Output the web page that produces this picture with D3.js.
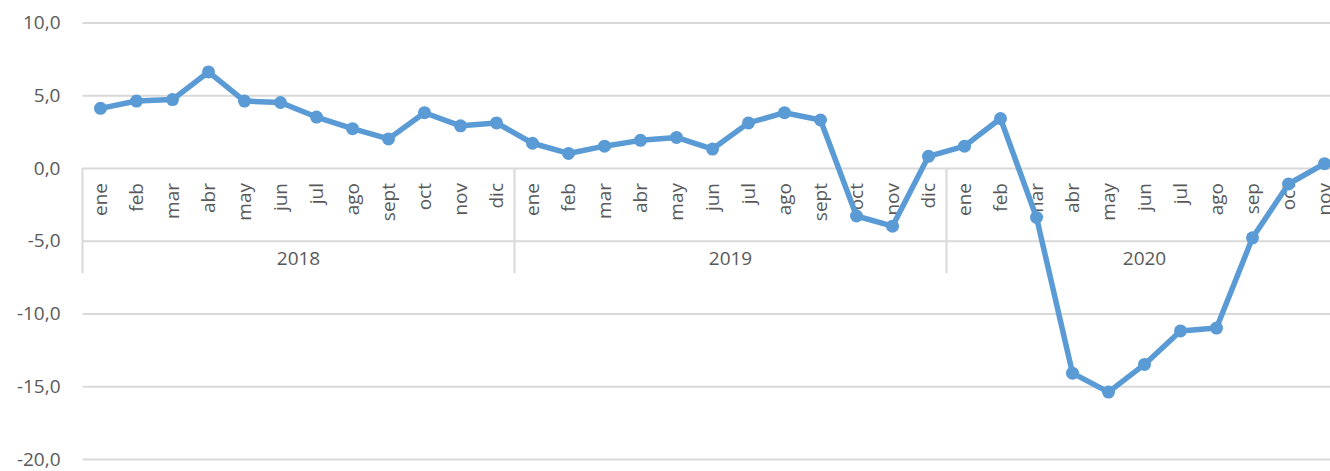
<!DOCTYPE html>
<html>
<head>
<meta charset="utf-8">
<script src="https://cdn.jsdelivr.net/npm/d3@7"></script>
<style>
	html, body { margin: 0; padding: 0; background: #fff; }
	svg { display: block; font-family: 'Open Sans', sans-serif; }
</style>
</head>
<body>
<div id="chart"></div>
<script>
/*

*	Data

*/
var years = ['2018', '2019', '2020'];
var months2018 = ['ene', 'feb', 'mar', 'abr', 'may', 'jun', 'jul', 'ago', 'sept', 'oct', 'nov', 'dic'];
var months2019 = ['ene', 'feb', 'mar', 'abr', 'may', 'jun', 'jul', 'ago', 'sept', 'oct', 'nov', 'dic'];
var months2020 = ['ene', 'feb', 'mar', 'abr', 'may', 'jun', 'jul', 'ago', 'sep', 'oct', 'nov'];
var values2018 = [4.1, 4.6, 4.7, 6.6, 4.6, 4.5, 3.5, 2.7, 2.0, 3.8, 2.9, 3.1];
var values2019 = [1.7, 1.0, 1.5, 1.9, 2.1, 1.3, 3.1, 3.8, 3.3, -3.3, -4.0, 0.8];
var values2020 = [1.5, 3.4, -3.4, -14.1, -15.4, -13.5, -11.2, -11.0, -4.8, -1.1, 0.3];
var yTicks = [10, 5, 0, -5, -10, -15, -20];

/*

*	Build rows

*/
var groups = [
	{ year: years[0], months: months2018, values: values2018 },
	{ year: years[1], months: months2019, values: values2019 },
	{ year: years[2], months: months2020, values: values2020 },
];

var rows = [];
groups.forEach(function (g) {
	g.months.forEach(function (m, i) {
		rows.push({ key: g.year + '-' + i, year: g.year, month: m, value: g.values[i] });
	});
});

var W = 1330, H = 471;
var textColor = '#595959';
var gridColor = '#d9d9d9';
var lineColor = '#5b9bd5';

var x = d3.scaleBand()
	.domain(rows.map(function (d) { return d.key; }))
	.range([82.5, 82.5 + 36 * rows.length])
	.padding(0);

var y = d3.scaleLinear().domain([-20, 10]).range([459, 22.5]);

var svg = d3.select('#chart')
	.append('svg')
	.attr('width', W)
	.attr('height', H);

// gridlines + y labels
var yAxis = d3.axisLeft(y)
	.tickValues(yTicks)
	.tickSize(-(W - 82.5))
	.tickPadding(22)
	.tickFormat(function (d) { return d3.format('.1f')(d).replace('.', ',').replace('−', '-'); });

var gy = svg.append('g')
	.attr('transform', 'translate(82.5,0)')
	.call(yAxis);

gy.select('.domain').remove();
gy.selectAll('.tick line')
	.attr('stroke', gridColor)
	.attr('stroke-width', 2);
gy.selectAll('.tick text')
	.attr('fill', textColor)
	.attr('font-size', '19px')
	.attr('font-family', "'Open Sans', sans-serif");

// category axis separators
var bounds = [0, 12, 24, rows.length];
svg.append('g')
	.selectAll('line')
	.data(bounds)
	.join('line')
	.attr('x1', function (d) { return d < rows.length ? x(rows[d].key) : x(rows[d - 1].key) + x.bandwidth(); })
	.attr('x2', function (d) { return d < rows.length ? x(rows[d].key) : x(rows[d - 1].key) + x.bandwidth(); })
	.attr('y1', y(0))
	.attr('y2', 273)
	.attr('stroke', gridColor)
	.attr('stroke-width', 2);

// month labels
svg.append('g')
	.selectAll('text')
	.data(rows)
	.join('text')
	.attr('transform', function (d) {
		return 'translate(' + (x(d.key) + x.bandwidth() / 2) + ',183) rotate(-90)';
	})
	.attr('text-anchor', 'end')
	.attr('dy', '0.35em')
	.attr('fill', textColor)
	.attr('font-size', '19px')
	.text(function (d) { return d.month; });

// year labels
svg.append('g')
	.selectAll('text')
	.data(groups)
	.join('text')
	.attr('x', function (g) {
		var first = x(g.year + '-0');
		var last = x(g.year + '-' + (g.months.length - 1)) + x.bandwidth();
		return (first + last) / 2;
	})
	.attr('y', 265)
	.attr('text-anchor', 'middle')
	.attr('fill', textColor)
	.attr('font-size', '19px')
	.text(function (g) { return g.year; });

// line + markers
var line = d3.line()
	.x(function (d) { return x(d.key) + x.bandwidth() / 2; })
	.y(function (d) { return y(d.value); });

svg.append('path')
	.datum(rows)
	.attr('d', line)
	.attr('fill', 'none')
	.attr('stroke', lineColor)
	.attr('stroke-width', 5.5)
	.attr('stroke-linejoin', 'round');

svg.append('g')
	.selectAll('circle')
	.data(rows)
	.join('circle')
	.attr('cx', function (d) { return x(d.key) + x.bandwidth() / 2; })
	.attr('cy', function (d) { return y(d.value); })
	.attr('r', 6.5)
	.attr('fill', lineColor);
</script>
</body>
</html>
